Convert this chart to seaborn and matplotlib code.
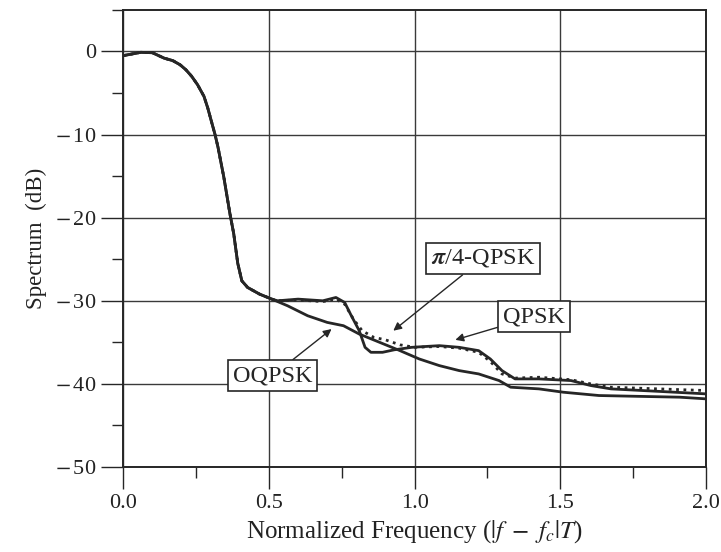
import numpy as np
import pandas as pd
import matplotlib
matplotlib.use('Agg')
import matplotlib.pyplot as plt
from matplotlib.ticker import MultipleLocator
import seaborn as sns

# main lobe shared by all three modulations
main_f = [0.0, 0.03, 0.06, 0.10, 0.14, 0.17, 0.195, 0.215, 0.235, 0.255, 0.277, 0.29,
          0.304, 0.315, 0.325, 0.345, 0.366, 0.379, 0.393, 0.407, 0.427, 0.468, 0.51]
main_db = [-0.5, -0.3, -0.1, -0.15, -0.8, -1.1, -1.6, -2.2, -3.0, -4.0, -5.4, -6.8,
           -8.6, -10.0, -11.5, -15.1, -19.5, -21.9, -25.5, -27.6, -28.4, -29.2, -29.8]

oqpsk_f = [0.564, 0.633, 0.70, 0.756, 0.81, 0.88, 0.95, 1.016, 1.085, 1.153, 1.22,
           1.29, 1.33, 1.427, 1.51, 1.633, 1.77, 1.91, 2.0]
oqpsk_db = [-30.6, -31.8, -32.6, -33.0, -34.0, -35.0, -36.0, -37.0, -37.8, -38.4, -38.8,
            -39.6, -40.4, -40.6, -41.0, -41.4, -41.5, -41.6, -41.8]

qpsk_f = [0.53, 0.60, 0.685, 0.73, 0.76, 0.78, 0.81, 0.83, 0.85, 0.89, 0.93, 0.99,
          1.085, 1.153, 1.22, 1.26, 1.30, 1.345, 1.427, 1.537, 1.605, 1.674, 1.838, 2.0]
qpsk_db = [-30.0, -29.8, -30.0, -29.6, -30.2, -31.6, -33.6, -35.6, -36.2, -36.2, -35.9, -35.6,
           -35.4, -35.6, -36.0, -37.0, -38.4, -39.4, -39.4, -39.6, -40.2, -40.6, -40.9, -41.2]

pi4_f = [0.53, 0.60, 0.685, 0.73, 0.76, 0.79, 0.82, 0.86, 0.90, 0.95, 1.0, 1.085,
         1.153, 1.22, 1.26, 1.30, 1.345, 1.427, 1.537, 1.605, 1.674, 1.838, 2.0]
pi4_db = [-30.0, -29.9, -30.1, -29.8, -30.4, -32.2, -33.6, -34.4, -34.7, -35.3, -35.6, -35.5,
          -35.7, -36.2, -37.3, -38.8, -39.3, -39.2, -39.5, -40.0, -40.4, -40.6, -40.8]

xticks = [0.0, 0.5, 1.0, 1.5, 2.0]
yticks = [-50, -40, -30, -20, -10, 0]

sns.set_style('ticks')
plt.rcParams['font.family'] = ['Liberation Serif', 'DejaVu Serif']
plt.rcParams['mathtext.fontset'] = 'stix'

fig, ax = plt.subplots(figsize=(7.21, 5.52), dpi=100)
fig.subplots_adjust(left=0.171, right=0.979, bottom=0.154, top=0.982)

ink = '#262626'
series = [
    (oqpsk_f, oqpsk_db, '-'),
    (qpsk_f, qpsk_db, '-'),
    (pi4_f, pi4_db, ':'),
]
for f, db, ls in series:
    df = pd.DataFrame({'f': main_f + f, 'db': main_db + db})
    sns.lineplot(data=df, x='f', y='db', ax=ax, color=ink, linewidth=2.0,
                 linestyle=ls, sort=False)

ax.set_xlim(0, 2.0)
ax.set_ylim(-50, 5)
ax.set_xticks(xticks)
ax.set_xticklabels([f'{t:.1f}' for t in xticks])
ax.set_yticks(yticks)
ax.set_yticklabels([f'$-\\,${abs(t)}' if t < 0 else '0' for t in yticks])
ax.xaxis.set_minor_locator(MultipleLocator(0.25))
ax.yaxis.set_minor_locator(MultipleLocator(5))
ax.tick_params(which='major', length=16, width=1.0, labelsize=16, color=ink, labelcolor='#222')
ax.tick_params(which='minor', length=8, width=1.0, color=ink)
ax.grid(True, which='major', color='#3a3a3a', linewidth=1.0)
for sp in ax.spines.values():
    sp.set_color(ink)
    sp.set_linewidth(1.4)

ax.set_xlabel(r'Normalized Frequency ($|f\ -\ f_c|T$)', fontsize=18, color='#222', labelpad=4)
ax.set_ylabel('Spectrum  (dB)', fontsize=16.5, color='#222', labelpad=6)

box = dict(boxstyle='square,pad=0.2', fc='white', ec=ink, lw=1.2)
arrow = dict(arrowstyle='-|>', color=ink, lw=1.0, mutation_scale=12, shrinkA=0, shrinkB=0)
ax.annotate(r'$\boldsymbol{\pi}$/4-QPSK', xy=(0.927, -33.6), xytext=(1.235, -24.9),
            ha='center', va='center', fontsize=17.5, bbox=box, arrowprops=arrow)
ax.annotate('QPSK', xy=(1.14, -34.7), xytext=(1.41, -31.9),
            ha='center', va='center', fontsize=17.5, bbox=box, arrowprops=arrow)
ax.annotate('OQPSK', xy=(0.715, -33.4), xytext=(0.513, -39.0),
            ha='center', va='center', fontsize=17.5, bbox=box, arrowprops=arrow)

fig.savefig('out.png', dpi=100)
